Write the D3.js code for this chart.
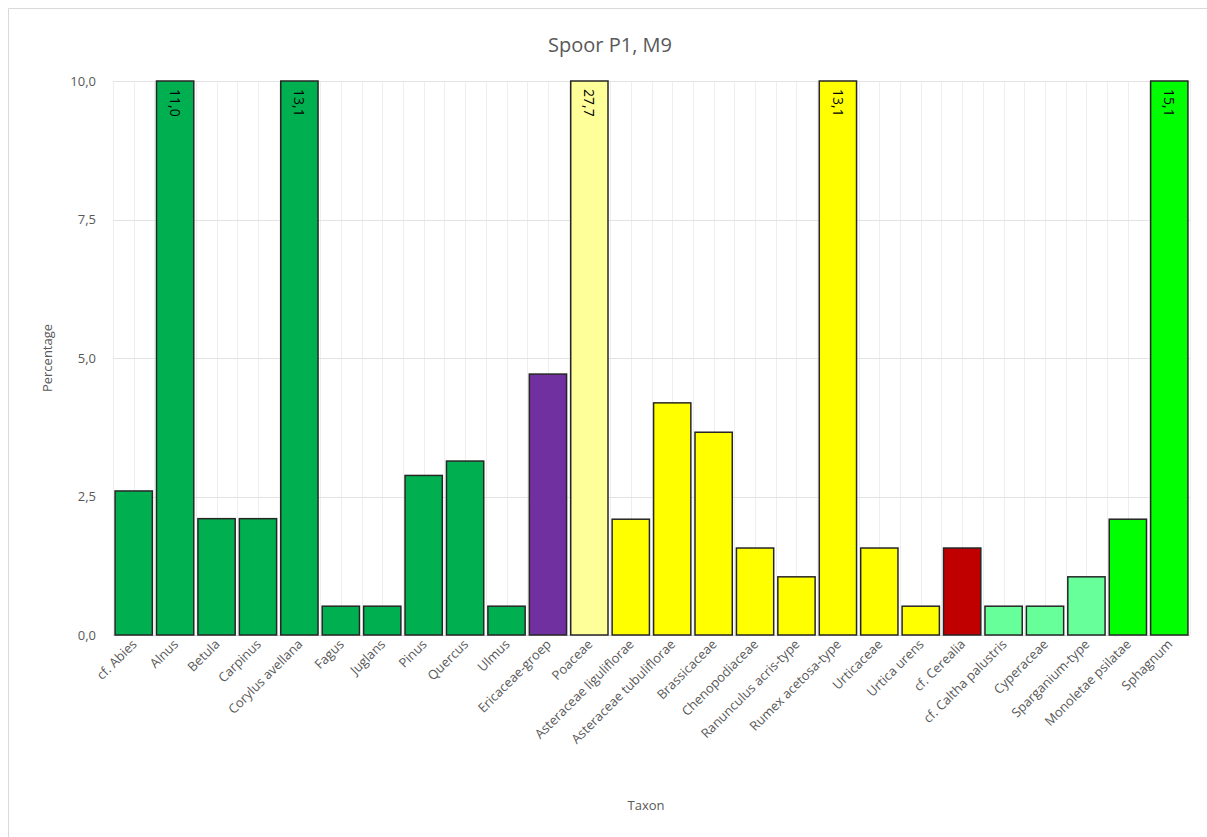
<!DOCTYPE html>
<meta charset="utf-8">
<body style="margin:0;background:#fff">
<div id="chart"></div>
<script src="https://d3js.org/d3.v7.min.js"></script>
<script>
var taxa = ["cf. Abies", "Alnus", "Betula", "Carpinus", "Corylus avellana", "Fagus", "Juglans",
  "Pinus", "Quercus", "Ulmus", "Ericaceae-groep", "Poaceae", "Asteraceae liguliflorae",
  "Asteraceae tubuliflorae", "Brassicaceae", "Chenopodiaceae", "Ranunculus acris-type",
  "Rumex acetosa-type", "Urticaceae", "Urtica urens", "cf. Cerealia", "cf. Caltha palustris",
  "Cyperaceae", "Sparganium-type", "Monoletae psilatae", "Sphagnum"];
var percentages = [2.6, 11.0, 2.1, 2.1, 13.1, 0.52, 0.52, 2.88, 3.14, 0.52, 4.71, 27.7, 2.09,
  4.19, 3.66, 1.57, 1.05, 13.1, 1.57, 0.52, 1.57, 0.52, 0.52, 1.05, 2.09, 15.1];
var groups = ["tree", "tree", "tree", "tree", "tree", "tree", "tree", "tree", "tree", "tree",
  "heath", "grass", "herb", "herb", "herb", "herb", "herb", "herb", "herb", "herb", "cereal",
  "wet", "wet", "wet", "spore", "spore"];
var yTicks = [0, 2.5, 5, 7.5, 10];

var groupColor = {tree: "#00b050", heath: "#7030a0", grass: "#ffff99", herb: "#ffff00",
  cereal: "#c00000", wet: "#66ff99", spore: "#00ff00"};

var data = taxa.map(function(t, i) {
  return {name: t, value: percentages[i], group: groups[i]};
});

var W = 1207, H = 837;
var margin = {top: 81, right: 17, bottom: 202, left: 113};
var width = W - margin.left - margin.right,
    height = H - margin.top - margin.bottom;
var font = "'Open Sans', 'Liberation Sans', sans-serif";

var svg = d3.select("#chart").append("svg")
  .attr("width", W).attr("height", H)
  .style("font-family", font);

// chart border
svg.append("path")
  .attr("d", "M8.5," + H + "V8.5H" + W)
  .attr("fill", "none").attr("stroke", "#d9d9d9");

var g = svg.append("g")
  .attr("transform", "translate(" + margin.left + "," + margin.top + ")");

var x = d3.scaleBand().domain(taxa).range([0, width]).paddingInner(0.1).paddingOuter(0.05);
var y = d3.scaleLinear().domain([0, 10]).range([height, 0]);

// vertical gridlines (half-category spacing)
var step = x.step();
var gridX = d3.range(0, taxa.length * 2 + 1).map(function(k) { return x.range()[0] + k * width / (taxa.length * 2); });
g.selectAll(".vgrid").data(gridX).enter().append("line")
  .attr("x1", function(d) { return Math.round(d) + 0.5; })
  .attr("x2", function(d) { return Math.round(d) + 0.5; })
  .attr("y1", 0).attr("y2", height)
  .attr("stroke", "#eeeeee");

// horizontal gridlines
g.selectAll(".hgrid").data(yTicks).enter().append("line")
  .attr("x1", 0).attr("x2", width)
  .attr("y1", function(d) { return Math.round(y(d)) + 0.5; })
  .attr("y2", function(d) { return Math.round(y(d)) + 0.5; })
  .attr("stroke", function(d) { return d === 0 ? "#d9d9d9" : "#e3e3e3"; });

// bars
g.selectAll(".bar").data(data).enter().append("rect")
  .attr("x", function(d) { return x(d.name); })
  .attr("width", x.bandwidth())
  .attr("y", function(d) { return y(Math.min(d.value, 10)); })
  .attr("height", function(d) { return y(0) - y(Math.min(d.value, 10)); })
  .attr("fill", function(d) { return groupColor[d.group]; })
  .attr("stroke", "#262626")
  .attr("stroke-width", 1.5);

// labels for bars that run off the top
g.selectAll(".blabel").data(data.filter(function(d) { return d.value > 10; })).enter()
  .append("text")
  .attr("transform", function(d) {
    return "translate(" + (x(d.name) + x.bandwidth() / 2) + ",8) rotate(90)";
  })
  .attr("dy", "0.35em")
  .style("font-size", "14px")
  .attr("fill", "#000")
  .text(function(d) { return d3.format(".1f")(d.value).replace(".", ","); });

// y axis
var yAxis = g.append("g")
  .call(d3.axisLeft(y).tickValues(yTicks).tickSize(0).tickPadding(17)
    .tickFormat(function(d) { return d3.format(".1f")(d).replace(".", ","); }));
yAxis.select(".domain").remove();
yAxis.selectAll("text").style("font-size", "13px").attr("fill", "#595959").style("font-family", font);

// x axis
var xAxis = g.append("g")
  .attr("transform", "translate(0," + height + ")")
  .call(d3.axisBottom(x).tickSize(0).tickPadding(0));
xAxis.select(".domain").remove();
xAxis.selectAll("text")
  .style("font-size", "13px").attr("fill", "#595959").style("font-family", font)
  .style("text-anchor", "end")
  .attr("dy", null)
  .attr("transform", "translate(4,10) rotate(-45)");

// title
svg.append("text")
  .attr("x", 610).attr("y", 52)
  .attr("text-anchor", "middle")
  .style("font-size", "20px").attr("fill", "#595959")
  .text("Spoor P1, M9");

// axis titles
svg.append("text")
  .attr("transform", "translate(52," + (margin.top + height / 2) + ") rotate(-90)")
  .attr("text-anchor", "middle")
  .style("font-size", "13px").attr("fill", "#595959")
  .text("Percentage");

svg.append("text")
  .attr("x", 646).attr("y", 810)
  .attr("text-anchor", "middle")
  .style("font-size", "13px").attr("fill", "#595959")
  .text("Taxon");
</script>
</body>
